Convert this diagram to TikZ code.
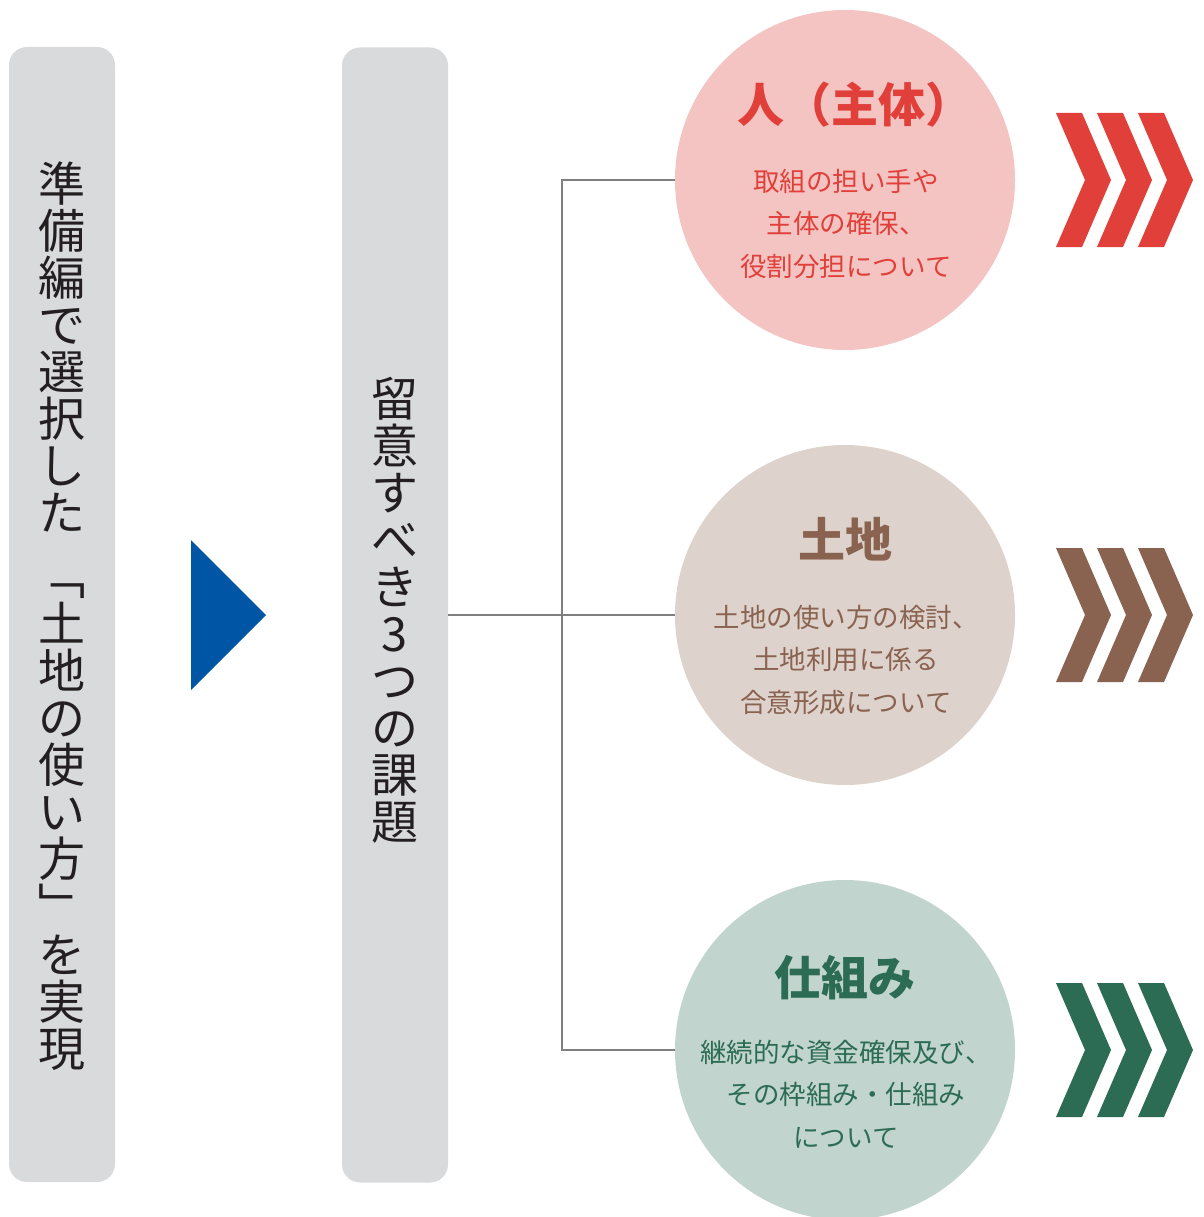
\documentclass[tikz,border=0pt]{standalone}
\usepackage{fontspec}
\setmainfont{Noto Sans CJK JP}
\definecolor{panelgray}{HTML}{D9DADC}
\definecolor{arrowblue}{HTML}{0055A5}
\definecolor{linegray}{HTML}{7F7F7F}
\definecolor{textdark}{HTML}{231F20}
\definecolor{cpink}{HTML}{F4C4C3}
\definecolor{cbeige}{HTML}{DDD2CC}
\definecolor{cmint}{HTML}{C1D4CE}
\definecolor{tred}{HTML}{E1403A}
\definecolor{tbrown}{HTML}{8A6250}
\definecolor{tgreen}{HTML}{2C6C54}
\tikzset{
  panel/.style={fill=panelgray, rounded corners=18pt, minimum width=106pt, minimum height=1135pt, inner sep=0pt},
  vch/.style={font=\fontsize{47}{47}\selectfont, text=textdark, text height=41.4pt, text depth=5.6pt, inner sep=0pt, anchor=center},
  topic/.style={circle, minimum size=340pt, inner sep=0pt},
  ttl/.style={font=\fontsize{47}{47}\selectfont\bfseries, text height=41.4pt, text depth=5.6pt, inner sep=0pt, anchor=center},
  bdy/.style={font=\fontsize{26.5}{26.5}\selectfont, text height=23.3pt, text depth=3.2pt, inner sep=0pt, anchor=center},
  conn/.style={draw=linegray, line width=1.2pt},
}
\newcommand{\chevrons}[3]{%
  \foreach \k in {0,1,2}{
    \fill[#3] ({#1+41*\k},{#2-67}) -- ({#1+26+41*\k},{#2-67}) -- ({#1+55+41*\k},{#2}) -- ({#1+26+41*\k},{#2+67}) -- ({#1+41*\k},{#2+67}) -- ({#1+29+41*\k},{#2}) -- cycle;
  }%
}
\begin{document}
\begin{tikzpicture}[x=1pt,y=-1pt]
\useasboundingbox (0,0) rectangle (1203,1217);
\clip (0,0) rectangle (1203,1217);
% panels
\node[panel] (lp) at (62,614.5) {};
\node[panel] (mp) at (395,615) {};
% vertical texts
\foreach \c/\y [count=\i] in {準/184,備/231,編/278,で/325,選/372,択/419,し/466,た/513,﹁/577,土/624,地/671,の/718,使/765,い/812,方/859,﹂/906,を/955,実/1002,現/1049}
  \node[vch] (L\i) at (62,\y) {\c};
\foreach \c/\y [count=\i] in {留/399,意/446,す/493,べ/540,き/587,3/634,つ/681,の/728,課/775,題/822}
  \node[vch] (M\i) at (395,\y) {\c};
% blue triangle
\fill[arrowblue] (191,540) -- (266,615) -- (191,690) -- cycle;
% circles
\node[topic, fill=cpink] (c1) at (845,180) {};
\node[topic, fill=cbeige] (c2) at (845,615) {};
\node[topic, fill=cmint] (c3) at (845,1050) {};
% connectors
\coordinate (j) at (562,615);
\draw[conn] (mp.east) -- (c2.west);
\draw[conn] (c1.west) -- (c1.west -| j) -- (c3.west -| j) -- (c3.west);
% circle 1 texts
\node[ttl, text=tred] (t1) at (855,105) {人（主体）};
\node[bdy, text=tred] (b1a) at (846,181) {取組の担い手や};
\node[bdy, text=tred] (b1b) at (846,223.5) {主体の確保、};
\node[bdy, text=tred] (b1c) at (846,266) {役割分担について};
% circle 2 texts
\node[ttl, text=tbrown] (t2) at (845,540) {土地};
\node[bdy, text=tbrown] (b2a) at (846,617) {土地の使い方の検討、};
\node[bdy, text=tbrown] (b2b) at (846,659) {土地利用に係る};
\node[bdy, text=tbrown] (b2c) at (846,702) {合意形成について};
% circle 3 texts
\node[ttl, text=tgreen] (t3) at (845,978) {仕組み};
\node[bdy, text=tgreen] (b3a) at (846,1052) {継続的な資金確保及び、};
\node[bdy, text=tgreen] (b3b) at (846,1094) {その枠組み・仕組み};
\node[bdy, text=tgreen] (b3c) at (846,1137) {について};
% chevrons
\chevrons{1056}{180}{tred}
\chevrons{1056}{615}{tbrown}
\chevrons{1056}{1050}{tgreen}
\end{tikzpicture}
\end{document}
